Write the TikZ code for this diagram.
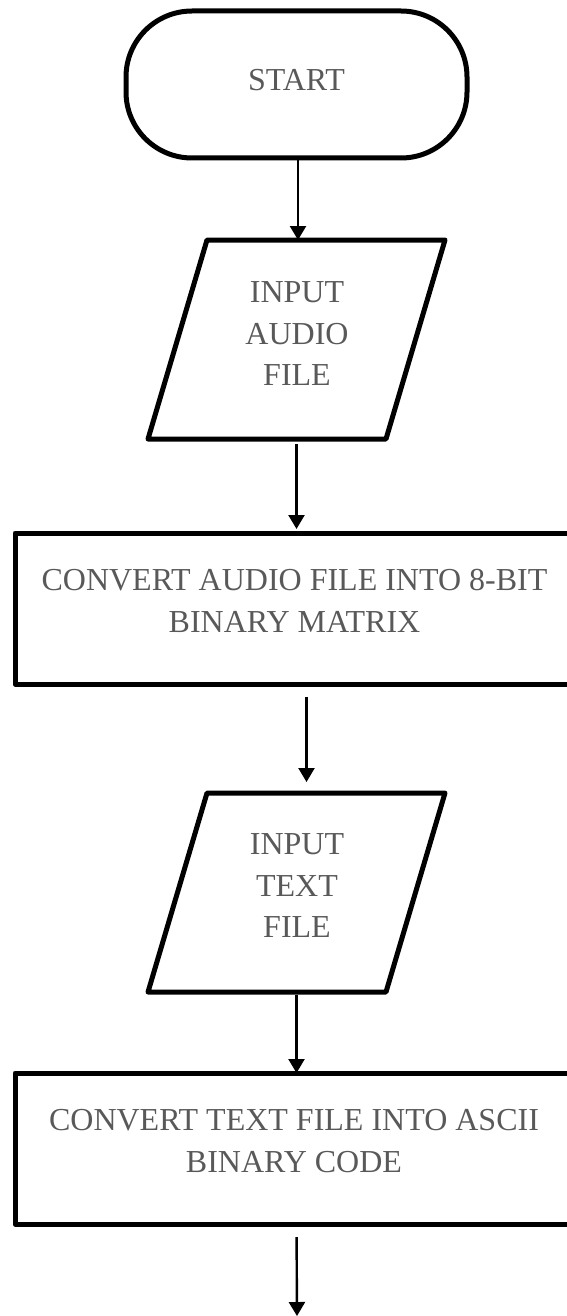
\documentclass[tikz,border=0pt]{standalone}
\usepackage{fontspec}
\setmainfont{Liberation Serif}
\usetikzlibrary{arrows.meta}
\definecolor{labelgray}{RGB}{89,89,89}
\tikzset{
  boxline/.style={draw=black, line width=5pt, line join=round},
  area/.style={inner sep=0pt, outer sep=0pt},
  flowtext/.style={text=labelgray, font=\fontsize{32}{41.5}\selectfont, align=center, inner sep=0pt},
  flowarrow/.style={draw=black, line width=2.4pt, -{Triangle[width=16pt,length=14pt]}},
}
\begin{document}
\begin{tikzpicture}[x=1pt,y=-1pt]
\useasboundingbox (0,0) rectangle (566,1316);

% terminator
\node[area, boxline, rounded corners=66pt, minimum width=341pt, minimum height=147pt] (start) at (296.5,84.5) {};
\node[flowtext] (starttext) at (296.5,80) {START};

% input: audio file
\node[area, minimum width=297pt, minimum height=199pt] (p1) at (296.5,339.5) {};
\draw[boxline] (p1.south west) -- ([xshift=59pt]p1.north west) -- (p1.north east)
  -- ([xshift=-59pt]p1.south east) -- cycle;
\node[flowtext] (p1text) at (297,334) {INPUT\\AUDIO\\FILE};

% process: audio to binary matrix
\node[area, boxline, minimum width=563pt, minimum height=151pt] (r1) at (296.5,608.5) {};
\node[flowtext] (r1text) at (294.5,601) {CONVERT AUDIO FILE INTO 8-BIT\\BINARY MATRIX};

% input: text file
\node[area, minimum width=297pt, minimum height=199pt] (p2) at (296.5,892.5) {};
\draw[boxline] (p2.south west) -- ([xshift=59pt]p2.north west) -- (p2.north east)
  -- ([xshift=-59pt]p2.south east) -- cycle;
\node[flowtext] (p2text) at (297,886) {INPUT\\TEXT\\FILE};

% process: text to ASCII binary code
\node[area, boxline, minimum width=563pt, minimum height=151pt] (r2) at (296.5,1148.5) {};
\node[flowtext] (r2text) at (294,1141) {CONVERT TEXT FILE INTO ASCII\\BINARY CODE};

\coordinate (end) at (297,1316);

% connectors
\draw[flowarrow] ([xshift=1.5pt]start.south) -- ([xshift=1.5pt]p1.north);
\draw[flowarrow, shorten <=5pt, shorten >=4pt] (p1.south) -- (r1.north);
\draw[flowarrow, shorten <=13pt, shorten >=11pt] ([xshift=10pt]r1.south) -- ([xshift=10pt]p2.north);
\draw[flowarrow, shorten <=3pt] (p2.south) -- (r2.north);
\draw[flowarrow, shorten <=13pt] (r2.south) -- (end);
\end{tikzpicture}
\end{document}
